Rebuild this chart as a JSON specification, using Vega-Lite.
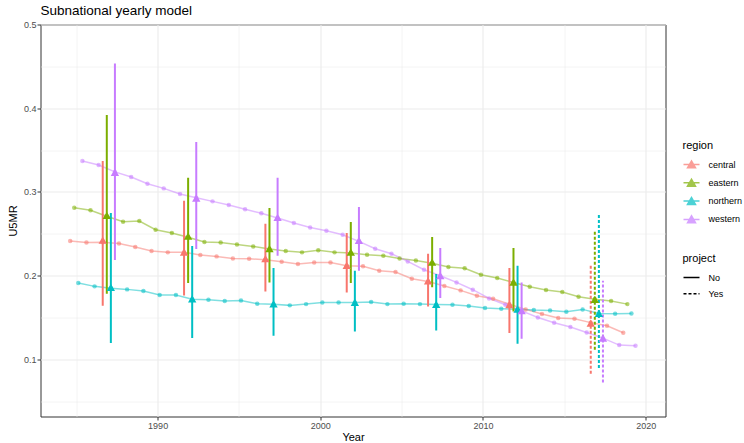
{
  "$schema": "https://vega.github.io/schema/vega-lite/v6.json",
  "width": 625,
  "height": 392,
  "autosize": {"type": "none"},
  "padding": {"left": 40.5, "top": 24.5, "right": 78.5, "bottom": 26.5},
  "title": {
    "text": "Subnational yearly model",
    "anchor": "start",
    "frame": "group",
    "font": "Liberation Sans",
    "fontSize": 13.5,
    "fontWeight": "normal",
    "color": "black",
    "baseline": "alphabetic",
    "offset": 8,
    "dy": 16
  },
  "datasets": {
    "yearly": [
      {"region": "central", "year": 1985, "u5mr": 0.2414}, {"region": "central", "year": 1986, "u5mr": 0.2398},
      {"region": "central", "year": 1987, "u5mr": 0.240}, {"region": "central", "year": 1988, "u5mr": 0.2386},
      {"region": "central", "year": 1989, "u5mr": 0.2342}, {"region": "central", "year": 1990, "u5mr": 0.2295},
      {"region": "central", "year": 1991, "u5mr": 0.2279}, {"region": "central", "year": 1992, "u5mr": 0.228},
      {"region": "central", "year": 1993, "u5mr": 0.2247}, {"region": "central", "year": 1994, "u5mr": 0.2231},
      {"region": "central", "year": 1995, "u5mr": 0.2207}, {"region": "central", "year": 1996, "u5mr": 0.2203},
      {"region": "central", "year": 1997, "u5mr": 0.219}, {"region": "central", "year": 1998, "u5mr": 0.2167},
      {"region": "central", "year": 1999, "u5mr": 0.2139}, {"region": "central", "year": 2000, "u5mr": 0.2159},
      {"region": "central", "year": 2001, "u5mr": 0.2159}, {"region": "central", "year": 2002, "u5mr": 0.212},
      {"region": "central", "year": 2003, "u5mr": 0.2112}, {"region": "central", "year": 2004, "u5mr": 0.206},
      {"region": "central", "year": 2005, "u5mr": 0.2044}, {"region": "central", "year": 2006, "u5mr": 0.1964},
      {"region": "central", "year": 2007, "u5mr": 0.193}, {"region": "central", "year": 2008, "u5mr": 0.1877},
      {"region": "central", "year": 2009, "u5mr": 0.1825}, {"region": "central", "year": 2010, "u5mr": 0.1761},
      {"region": "central", "year": 2011, "u5mr": 0.1725}, {"region": "central", "year": 2012, "u5mr": 0.166},
      {"region": "central", "year": 2013, "u5mr": 0.1598}, {"region": "central", "year": 2014, "u5mr": 0.1542},
      {"region": "central", "year": 2015, "u5mr": 0.1494}, {"region": "central", "year": 2016, "u5mr": 0.1486},
      {"region": "central", "year": 2017, "u5mr": 0.144}, {"region": "central", "year": 2018, "u5mr": 0.1403},
      {"region": "central", "year": 2019, "u5mr": 0.1319},

      {"region": "eastern", "year": 1985, "u5mr": 0.2812}, {"region": "eastern", "year": 1986, "u5mr": 0.2781},
      {"region": "eastern", "year": 1987, "u5mr": 0.271}, {"region": "eastern", "year": 1988, "u5mr": 0.2645},
      {"region": "eastern", "year": 1989, "u5mr": 0.2653}, {"region": "eastern", "year": 1990, "u5mr": 0.255},
      {"region": "eastern", "year": 1991, "u5mr": 0.251}, {"region": "eastern", "year": 1992, "u5mr": 0.246},
      {"region": "eastern", "year": 1993, "u5mr": 0.2402}, {"region": "eastern", "year": 1994, "u5mr": 0.2398},
      {"region": "eastern", "year": 1995, "u5mr": 0.2374}, {"region": "eastern", "year": 1996, "u5mr": 0.235},
      {"region": "eastern", "year": 1997, "u5mr": 0.232}, {"region": "eastern", "year": 1998, "u5mr": 0.2295},
      {"region": "eastern", "year": 1999, "u5mr": 0.2279}, {"region": "eastern", "year": 2000, "u5mr": 0.2303},
      {"region": "eastern", "year": 2001, "u5mr": 0.2279}, {"region": "eastern", "year": 2002, "u5mr": 0.227},
      {"region": "eastern", "year": 2003, "u5mr": 0.2251}, {"region": "eastern", "year": 2004, "u5mr": 0.2239},
      {"region": "eastern", "year": 2005, "u5mr": 0.2207}, {"region": "eastern", "year": 2006, "u5mr": 0.2183},
      {"region": "eastern", "year": 2007, "u5mr": 0.215}, {"region": "eastern", "year": 2008, "u5mr": 0.2104},
      {"region": "eastern", "year": 2009, "u5mr": 0.2088}, {"region": "eastern", "year": 2010, "u5mr": 0.2012},
      {"region": "eastern", "year": 2011, "u5mr": 0.1972}, {"region": "eastern", "year": 2012, "u5mr": 0.192},
      {"region": "eastern", "year": 2013, "u5mr": 0.1869}, {"region": "eastern", "year": 2014, "u5mr": 0.1829},
      {"region": "eastern", "year": 2015, "u5mr": 0.1805}, {"region": "eastern", "year": 2016, "u5mr": 0.1749},
      {"region": "eastern", "year": 2017, "u5mr": 0.172}, {"region": "eastern", "year": 2018, "u5mr": 0.1697},
      {"region": "eastern", "year": 2019, "u5mr": 0.1661},

      {"region": "northern", "year": 1985, "u5mr": 0.1912}, {"region": "northern", "year": 1986, "u5mr": 0.1873},
      {"region": "northern", "year": 1987, "u5mr": 0.185}, {"region": "northern", "year": 1988, "u5mr": 0.1837},
      {"region": "northern", "year": 1989, "u5mr": 0.1817}, {"region": "northern", "year": 1990, "u5mr": 0.1769},
      {"region": "northern", "year": 1991, "u5mr": 0.1769}, {"region": "northern", "year": 1992, "u5mr": 0.172},
      {"region": "northern", "year": 1993, "u5mr": 0.1713}, {"region": "northern", "year": 1994, "u5mr": 0.1697},
      {"region": "northern", "year": 1995, "u5mr": 0.1705}, {"region": "northern", "year": 1996, "u5mr": 0.1665},
      {"region": "northern", "year": 1997, "u5mr": 0.166}, {"region": "northern", "year": 1998, "u5mr": 0.1646},
      {"region": "northern", "year": 1999, "u5mr": 0.1661}, {"region": "northern", "year": 2000, "u5mr": 0.1681},
      {"region": "northern", "year": 2001, "u5mr": 0.1681}, {"region": "northern", "year": 2002, "u5mr": 0.168},
      {"region": "northern", "year": 2003, "u5mr": 0.1685}, {"region": "northern", "year": 2004, "u5mr": 0.1661},
      {"region": "northern", "year": 2005, "u5mr": 0.1665}, {"region": "northern", "year": 2006, "u5mr": 0.1661},
      {"region": "northern", "year": 2007, "u5mr": 0.1655}, {"region": "northern", "year": 2008, "u5mr": 0.1653},
      {"region": "northern", "year": 2009, "u5mr": 0.1638}, {"region": "northern", "year": 2010, "u5mr": 0.1614},
      {"region": "northern", "year": 2011, "u5mr": 0.1606}, {"region": "northern", "year": 2012, "u5mr": 0.160},
      {"region": "northern", "year": 2013, "u5mr": 0.159}, {"region": "northern", "year": 2014, "u5mr": 0.1586},
      {"region": "northern", "year": 2015, "u5mr": 0.157}, {"region": "northern", "year": 2016, "u5mr": 0.1598},
      {"region": "northern", "year": 2017, "u5mr": 0.155}, {"region": "northern", "year": 2018, "u5mr": 0.1546},
      {"region": "northern", "year": 2019, "u5mr": 0.155},

      {"region": "western", "year": 1985, "u5mr": 0.337}, {"region": "western", "year": 1986, "u5mr": 0.3322},
      {"region": "western", "year": 1987, "u5mr": 0.324}, {"region": "western", "year": 1988, "u5mr": 0.3179},
      {"region": "western", "year": 1989, "u5mr": 0.3099}, {"region": "western", "year": 1990, "u5mr": 0.3043},
      {"region": "western", "year": 1991, "u5mr": 0.2976}, {"region": "western", "year": 1992, "u5mr": 0.293},
      {"region": "western", "year": 1993, "u5mr": 0.2888}, {"region": "western", "year": 1994, "u5mr": 0.2844},
      {"region": "western", "year": 1995, "u5mr": 0.2793}, {"region": "western", "year": 1996, "u5mr": 0.2745},
      {"region": "western", "year": 1997, "u5mr": 0.269}, {"region": "western", "year": 1998, "u5mr": 0.2629},
      {"region": "western", "year": 1999, "u5mr": 0.2577}, {"region": "western", "year": 2000, "u5mr": 0.2538},
      {"region": "western", "year": 2001, "u5mr": 0.249}, {"region": "western", "year": 2002, "u5mr": 0.241},
      {"region": "western", "year": 2003, "u5mr": 0.2323}, {"region": "western", "year": 2004, "u5mr": 0.2263},
      {"region": "western", "year": 2005, "u5mr": 0.2171}, {"region": "western", "year": 2006, "u5mr": 0.2072},
      {"region": "western", "year": 2007, "u5mr": 0.2}, {"region": "western", "year": 2008, "u5mr": 0.192},
      {"region": "western", "year": 2009, "u5mr": 0.1833}, {"region": "western", "year": 2010, "u5mr": 0.1729},
      {"region": "western", "year": 2011, "u5mr": 0.1654}, {"region": "western", "year": 2012, "u5mr": 0.158},
      {"region": "western", "year": 2013, "u5mr": 0.1502}, {"region": "western", "year": 2014, "u5mr": 0.1438},
      {"region": "western", "year": 2015, "u5mr": 0.1387}, {"region": "western", "year": 2016, "u5mr": 0.1323},
      {"region": "western", "year": 2017, "u5mr": 0.1255}, {"region": "western", "year": 2018, "u5mr": 0.1172},
      {"region": "western", "year": 2019, "u5mr": 0.1164}
    ],
    "survey": [
      {"region": "central", "year": 1987, "project": "No", "est": 0.2426, "lower": 0.1642, "upper": 0.337},
      {"region": "eastern", "year": 1987, "project": "No", "est": 0.272, "lower": 0.1785, "upper": 0.392},
      {"region": "northern", "year": 1987, "project": "No", "est": 0.1861, "lower": 0.1196, "upper": 0.2749},
      {"region": "western", "year": 1987, "project": "No", "est": 0.3235, "lower": 0.2187, "upper": 0.4533},
      {"region": "central", "year": 1992, "project": "No", "est": 0.2283, "lower": 0.1765, "upper": 0.2896},
      {"region": "eastern", "year": 1992, "project": "No", "est": 0.2474, "lower": 0.1912, "upper": 0.3171},
      {"region": "northern", "year": 1992, "project": "No", "est": 0.1725, "lower": 0.1255, "upper": 0.2354},
      {"region": "western", "year": 1992, "project": "No", "est": 0.2928, "lower": 0.2319, "upper": 0.3597},
      {"region": "central", "year": 1997, "project": "No", "est": 0.2203, "lower": 0.1813, "upper": 0.2621},
      {"region": "eastern", "year": 1997, "project": "No", "est": 0.2323, "lower": 0.192, "upper": 0.2808},
      {"region": "northern", "year": 1997, "project": "No", "est": 0.1665, "lower": 0.1283, "upper": 0.2092},
      {"region": "western", "year": 1997, "project": "No", "est": 0.2697, "lower": 0.2239, "upper": 0.3171},
      {"region": "central", "year": 2002, "project": "No", "est": 0.2123, "lower": 0.1801, "upper": 0.251},
      {"region": "eastern", "year": 2002, "project": "No", "est": 0.2283, "lower": 0.1912, "upper": 0.2641},
      {"region": "northern", "year": 2002, "project": "No", "est": 0.1681, "lower": 0.1335, "upper": 0.206},
      {"region": "western", "year": 2002, "project": "No", "est": 0.2422, "lower": 0.206, "upper": 0.282},
      {"region": "central", "year": 2007, "project": "No", "est": 0.194, "lower": 0.1634, "upper": 0.2263},
      {"region": "eastern", "year": 2007, "project": "No", "est": 0.2163, "lower": 0.1861, "upper": 0.2462},
      {"region": "northern", "year": 2007, "project": "No", "est": 0.1657, "lower": 0.1347, "upper": 0.202},
      {"region": "western", "year": 2007, "project": "No", "est": 0.2, "lower": 0.1733, "upper": 0.2331},
      {"region": "central", "year": 2012, "project": "No", "est": 0.1654, "lower": 0.1315, "upper": 0.2092},
      {"region": "eastern", "year": 2012, "project": "No", "est": 0.1924, "lower": 0.1574, "upper": 0.2331},
      {"region": "northern", "year": 2012, "project": "No", "est": 0.1602, "lower": 0.1188, "upper": 0.2119},
      {"region": "western", "year": 2012, "project": "No", "est": 0.1582, "lower": 0.1247, "upper": 0.192},
      {"region": "central", "year": 2017, "project": "Yes", "est": 0.1434, "lower": 0.0829, "upper": 0.2131},
      {"region": "eastern", "year": 2017, "project": "Yes", "est": 0.1717, "lower": 0.1116, "upper": 0.255},
      {"region": "northern", "year": 2017, "project": "Yes", "est": 0.155, "lower": 0.0897, "upper": 0.2741},
      {"region": "western", "year": 2017, "project": "Yes", "est": 0.1255, "lower": 0.0726, "upper": 0.194}
    ]
  },
  "encoding": {
    "x": {
      "field": "year",
      "type": "quantitative",
      "title": "Year",
      "scale": {"domain": [1982.8, 2021.22], "nice": false, "zero": false},
      "axis": {
        "values": [1985, 1990, 1995, 2000, 2005, 2010, 2015, 2020],
        "format": "d",
        "labelExpr": "datum.value % 10 == 0 ? datum.label : ''",
        "gridWidth": {"condition": {"test": "datum.value % 10 != 0", "value": 0.55}, "value": 1.1},
        "tickOpacity": {"condition": {"test": "datum.value % 10 != 0", "value": 0}, "value": 1},
        "labelPadding": 1,
        "titlePadding": 1
      }
    },
    "color": {
      "field": "region",
      "type": "nominal",
      "title": "region",
      "scale": {
        "domain": ["central", "eastern", "northern", "western"],
        "range": ["#F8766D", "#7CAE00", "#00BFC4", "#C77CFF"]
      }
    }
  },
  "layer": [
    {
      "data": {"name": "yearly"},
      "mark": {
        "type": "line",
        "strokeWidth": 1.5,
        "opacity": 0.5,
        "xOffset": {"expr": "datum.region == 'central' ? -6.1 : datum.region == 'eastern' ? -2.03 : datum.region == 'northern' ? 2.03 : 6.1"}
      },
      "encoding": {
        "y": {
          "field": "u5mr",
          "type": "quantitative",
          "title": "U5MR",
          "scale": {"domain": [0.0319, 0.5], "nice": false, "zero": false},
          "axis": {
            "values": [0.05, 0.1, 0.15, 0.2, 0.25, 0.3, 0.35, 0.4, 0.45, 0.5],
            "format": ".1f",
            "labelExpr": "round(datum.value * 100) % 10 != 0 ? '' : datum.label",
            "gridWidth": {"condition": {"test": "round(datum.value * 100) % 10 != 0", "value": 0.55}, "value": 1.1},
            "tickOpacity": {"condition": {"test": "round(datum.value * 100) % 10 != 0", "value": 0}, "value": 1},
            "labelPadding": 1,
            "titlePadding": 5
          }
        },
        "detail": {"field": "region"}
      }
    },
    {
      "data": {"name": "yearly"},
      "mark": {
        "type": "circle",
        "size": 20,
        "opacity": 0.55,
        "xOffset": {"expr": "datum.region == 'central' ? -6.1 : datum.region == 'eastern' ? -2.03 : datum.region == 'northern' ? 2.03 : 6.1"}
      },
      "encoding": {
        "y": {"field": "u5mr", "type": "quantitative"}
      }
    },
    {
      "data": {"name": "survey"},
      "mark": {
        "type": "rule",
        "strokeWidth": 2,
        "xOffset": {"expr": "datum.region == 'central' ? -6.1 : datum.region == 'eastern' ? -2.03 : datum.region == 'northern' ? 2.03 : 6.1"}
      },
      "encoding": {
        "y": {"field": "lower", "type": "quantitative"},
        "y2": {"field": "upper"},
        "strokeDash": {
          "field": "project",
          "type": "nominal",
          "title": "project",
          "scale": {"domain": ["No", "Yes"], "range": [[1, 0], [3, 2]]},
          "legend": {
            "legendX": 642,
            "legendY": 228,
            "symbolType": "stroke",
            "symbolStrokeColor": "black",
            "symbolStrokeWidth": 1.5
          }
        }
      }
    },
    {
      "data": {"name": "survey"},
      "mark": {
        "type": "point",
        "shape": "triangle-up",
        "filled": true,
        "size": 70,
        "opacity": 1,
        "xOffset": {"expr": "datum.region == 'central' ? -6.1 : datum.region == 'eastern' ? -2.03 : datum.region == 'northern' ? 2.03 : 6.1"}
      },
      "encoding": {
        "y": {"field": "est", "type": "quantitative"},
        "color": {
          "field": "region",
          "type": "nominal",
          "title": "region",
          "legend": {
            "legendX": 642,
            "legendY": 115,
            "symbolType": "M-1,0L1,0M-0.5,0.42L0,-0.45L0.5,0.42Z",
            "symbolOpacity": 0.7,
            "symbolStrokeWidth": 1.5,
            "encode": {
              "symbols": {
                "update": {
                  "stroke": {"scale": "color", "field": "value"},
                  "fill": {"scale": "color", "field": "value"}
                }
              }
            }
          }
        }
      }
    }
  ],
  "config": {
    "font": "Liberation Sans",
    "view": {"stroke": "#333333", "strokeWidth": 1},
    "axis": {
      "domain": false,
      "tickColor": "#333333",
      "tickSize": 3.5,
      "tickWidth": 1,
      "labelColor": "#4D4D4D",
      "labelFontSize": 9,
      "titleFontSize": 11,
      "titleFontWeight": "normal",
      "titleColor": "black",
      "gridColor": "#EBEBEB"
    },
    "legend": {
      "orient": "none",
      "padding": 0,
      "titleFontSize": 11,
      "titleFontWeight": "normal",
      "titleColor": "black",
      "titlePadding": 5,
      "labelFontSize": 9,
      "labelColor": "black",
      "labelOffset": 8,
      "symbolSize": 256,
      "rowPadding": 2.3
    }
  }
}
